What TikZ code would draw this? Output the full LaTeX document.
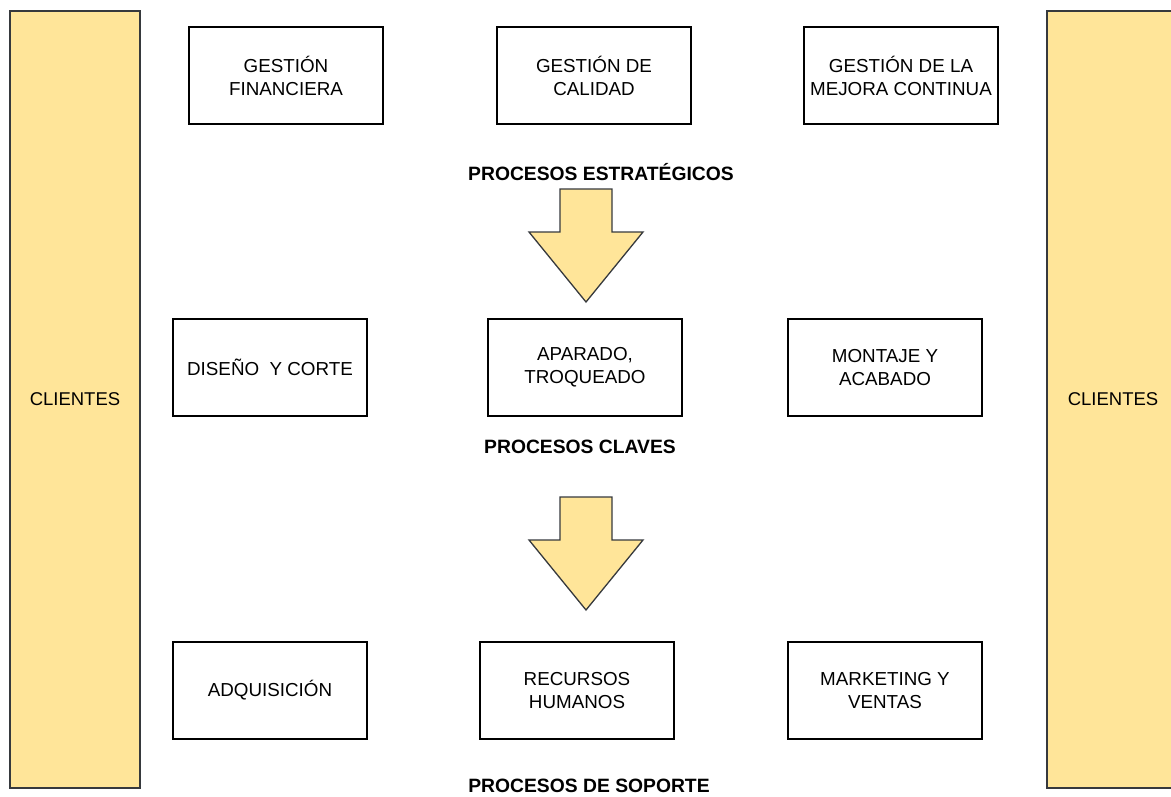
\documentclass[tikz,border=0pt]{standalone}
\usepackage{fontspec}
\setmainfont{Liberation Sans}
\usetikzlibrary{positioning}
\definecolor{barfill}{HTML}{FFE599}
\definecolor{barline}{HTML}{36393D}

\begin{document}
\begin{tikzpicture}[x=1pt,y=-1pt,
    proc/.style={draw=black, line width=1.4pt, fill=white, minimum width=194pt, minimum height=97pt,
      inner sep=0pt, align=center, font=\fontsize{18.8}{23}\selectfont},
    clientbar/.style={draw=barline, line width=2pt, fill=barfill, minimum width=130pt, minimum height=777pt,
      inner sep=0pt, font=\fontsize{18.5}{23}\selectfont},
    level/.style={inner sep=0pt, font=\fontsize{19.3}{22}\selectfont\bfseries},
    blockarrow/.style={draw=barline, line width=1.3pt, fill=barfill, line join=miter}]
    % page size of the reference
    \useasboundingbox (0,0) rectangle (1171,796);
    \clip (0,0) rectangle (1171,796);

    % Clientes on both sides
    \node[clientbar] (cliL) at (75,399.5) {CLIENTES};
    \node[clientbar, minimum width=132pt] (cliR) at (1113,399.5) {CLIENTES};

    % Procesos estrategicos
    \node[proc] (fin) at (286,75.5) {GESTIÓN\\FINANCIERA};
    \node[proc] (cal) at (594,75.5) {GESTIÓN DE\\CALIDAD};
    \node[proc] (mej) at (901,75.5) {GESTIÓN DE LA\\MEJORA CONTINUA};
    \node[level] (est) at (601,172) {PROCESOS ESTRATÉGICOS};

    % Procesos claves
    \node[proc] (dis) at (270,367.5) {DISEÑO~ Y CORTE};
    \node[proc] (apa) at (585,367.5) {APARADO,\\TROQUEADO};
    \node[proc] (mon) at (885,367.5) {MONTAJE Y\\ACABADO};
    \node[level] (cla) at (580,447) {PROCESOS CLAVES};

    % Procesos de soporte
    \node[proc] (adq) at (270,690.5) {ADQUISICIÓN};
    \node[proc] (rrhh) at (577,690.5) {RECURSOS\\HUMANOS};
    \node[proc] (mkt) at (885,690.5) {MARKETING Y\\VENTAS};
    \node[level] (sop) at (589,786) {PROCESOS DE SOPORTE};

    % Block arrows between the levels
    \foreach \ay in {189,497} {
      \draw[blockarrow] (560,\ay) -- (612,\ay) -- (612,\ay+43) -- (643,\ay+43)
        -- (586,\ay+113) -- (529,\ay+43) -- (560,\ay+43) -- cycle;
    }
\end{tikzpicture}
\end{document}
